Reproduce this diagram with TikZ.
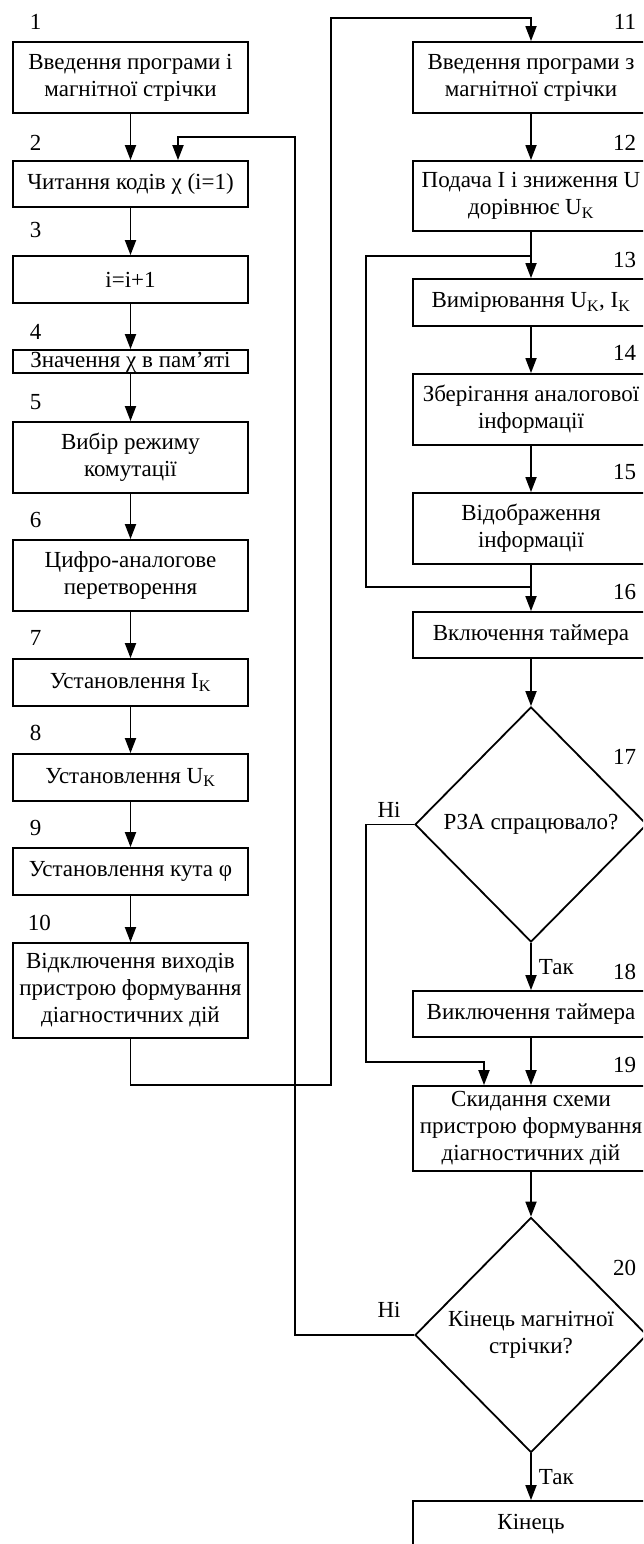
\documentclass[tikz,border=0pt]{standalone}
\usepackage{fontspec}
\setmainfont{Liberation Serif}
\usetikzlibrary{arrows.meta,shapes.geometric}
\begin{document}
\begin{tikzpicture}[x=1pt,y=-1pt,
  line width=1.8pt,
  txt/.style={font=\fontsize{23}{27}\selectfont},
  box/.style={txt,draw,rectangle,inner sep=0pt,align=center},
  lbox/.style={box,minimum width=235pt},
  rbox/.style={box,minimum width=236pt},
  decision/.style={txt,draw,diamond,inner sep=0pt,align=center,
    minimum width=232pt,minimum height=235pt},
  num/.style={txt,inner sep=0pt},
  lnum/.style={num,anchor=west},
  rnum/.style={num,anchor=east},
  arr/.style={-{Triangle[length=15pt,width=11pt]}}]
\useasboundingbox (0,0) rectangle (643,1544);
\clip (0,0) rectangle (643,1544);

% left column
\node[lbox,minimum height=71pt] (b1) at (130.5,77.5) {Введення програми і\\магнітної стрічки};
\node[lbox,minimum height=46pt] (b2) at (130.5,184) {Читання кодів χ (i=1)};
\node[lbox,minimum height=47pt] (b3) at (130.5,279.5) {i=i+1};
\node[lbox,minimum height=23pt,text height=15pt,text depth=4pt] (b4) at (130.5,361.5) {Значення χ в пам’яті};
\node[lbox,minimum height=71pt] (b5) at (130.5,457.5) {Вибір режиму\\комутації};
\node[lbox,minimum height=71pt] (b6) at (130.5,575.5) {Цифро-аналогове\\перетворення};
\node[lbox,minimum height=47pt] (b7) at (130.5,682.5) {Установлення I\textsubscript{K}};
\node[lbox,minimum height=47pt] (b8) at (130.5,777.5) {Установлення U\textsubscript{K}};
\node[lbox,minimum height=47pt] (b9) at (130.5,871.5) {Установлення кута φ};
\node[lbox,minimum height=95pt] (b10) at (130.5,990.5) {Відключення виходів\\пристрою формування\\діагностичних дій};

% right column
\node[rbox,minimum height=71pt] (b11) at (531,77.5) {Введення програми з\\магнітної стрічки};
\node[rbox,minimum height=70pt] (b12) at (531,196) {Подача I і зниження U\\дорівнює U\textsubscript{K}};
\node[rbox,minimum height=47pt] (b13) at (531,302.5) {Вимірювання U\textsubscript{K}, I\textsubscript{K}};
\node[rbox,minimum height=71pt] (b14) at (531,409.5) {Зберігання аналогової\\інформації};
\node[rbox,minimum height=71pt] (b15) at (531,528.5) {Відображення\\інформації};
\node[rbox,minimum height=46pt] (b16) at (531,635) {Включення таймера};
\node[decision] (d17) at (531,824.5) {РЗА спрацювало?};
\node[rbox,minimum height=46pt] (b18) at (531,1014) {Виключення таймера};
\node[rbox,minimum height=85pt] (b19) at (531,1128.5) {Скидання схеми\\пристрою формування\\діагностичних дій};
\node[decision] (d20) at (531,1335) {Кінець магнітної\\стрічки?};
\node[rbox,minimum height=47pt] (b21) at (531,1524.5) {Кінець};

% step numbers
\node[lnum] (n1) at (29,22) {1};
\node[lnum] (n2) at (29,143) {2};
\node[lnum] (n3) at (29,230) {3};
\node[lnum] (n4) at (29,332) {4};
\node[lnum] (n5) at (29,402) {5};
\node[lnum] (n6) at (29,520) {6};
\node[lnum] (n7) at (29,638) {7};
\node[lnum] (n8) at (29,733) {8};
\node[lnum] (n9) at (29,828) {9};
\node[lnum] (n10) at (27,923) {10};
\node[rnum] (n11) at (637,22) {11};
\node[rnum] (n12) at (637,143) {12};
\node[rnum] (n13) at (637,260) {13};
\node[rnum] (n14) at (637,353) {14};
\node[rnum] (n15) at (637,472) {15};
\node[rnum] (n16) at (637,592) {16};
\node[rnum] (n17) at (637,757) {17};
\node[rnum] (n18) at (637,972) {18};
\node[rnum] (n19) at (637,1065) {19};
\node[rnum] (n20) at (637,1268) {20};

% branch labels
\node[num] (no17) at (389,810) {Ні};
\node[num,anchor=west] (yes17) at (538,967) {Так};
\node[num] (no20) at (389,1310) {Ні};
\node[num,anchor=west] (yes20) at (538,1477) {Так};

% straight flow
\draw[arr] (b1) -- (b2);
\draw[arr] (b2) -- (b3);
\draw[arr] (b3) -- (b4);
\draw[arr] (b4) -- (b5);
\draw[arr] (b5) -- (b6);
\draw[arr] (b6) -- (b7);
\draw[arr] (b7) -- (b8);
\draw[arr] (b8) -- (b9);
\draw[arr] (b9) -- (b10);
\draw[arr] (b11) -- (b12);
\draw[arr] (b12) -- (b13);
\draw[arr] (b13) -- (b14);
\draw[arr] (b14) -- (b15);
\draw[arr] (b15) -- (b16);
\draw[arr] (b16) -- (d17);
\draw[arr] (d17) -- (b18);
\draw[arr] (b18) -- (b19);
\draw[arr] (b19) -- (d20);
\draw[arr] (d20) -- (b21);

% column 1 -> column 2
\coordinate (p1) at (331,1085);
\coordinate (p2) at (331,18);
\draw[arr] (b10.south) |- (p1) -- (p2) -| (b11.north);

% return loop: next code
\coordinate (q1) at (295,137);
\coordinate (q2) at (178,137);
\draw[arr] (d20.west) -| (q1) -- (q2) -- (q2 |- b2.north);

% bypass of measurement steps
\coordinate (r1) at (531,256);
\coordinate (r2) at (366,256);
\coordinate (r3) at (366,587);
\coordinate (r4) at (531,587);
\draw (r1) -- (r2) -- (r3) -- (r4);

% protection did not operate
\coordinate (s1) at (366,1062);
\coordinate (s2) at (484,1062);
\draw[arr] (d17.west) -| (s1) -- (s2) -- (s2 |- b19.north);
\end{tikzpicture}
\end{document}
